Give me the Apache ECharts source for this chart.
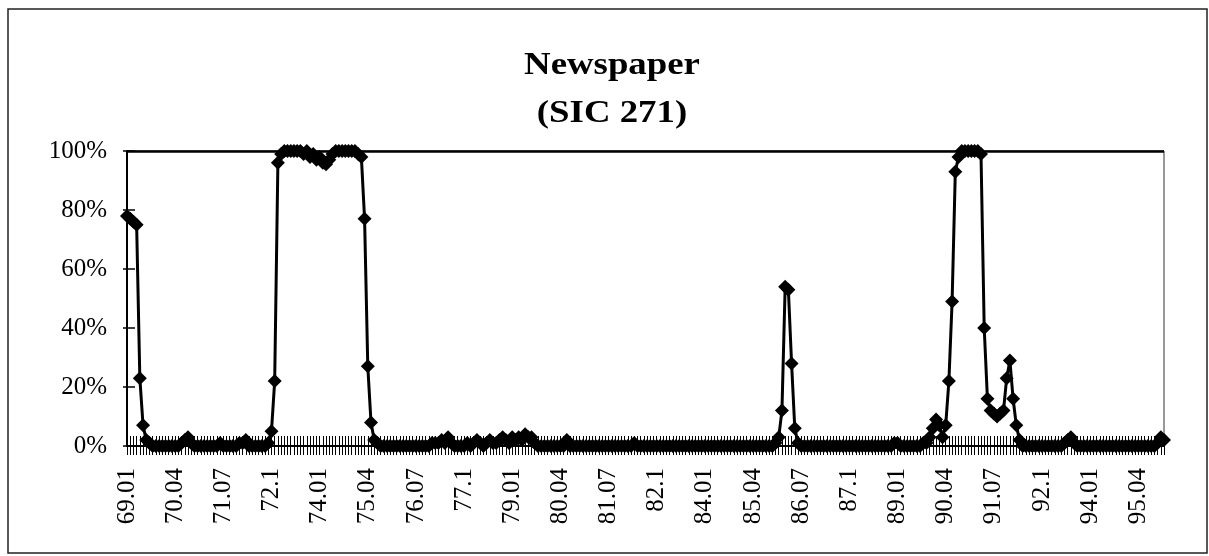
<!DOCTYPE html>
<html>
<head>
<meta charset="utf-8">
<script src="https://cdn.jsdelivr.net/npm/echarts@6/dist/echarts.min.js"></script>
<style>
  html, body { margin: 0; padding: 0; background: #fff; }
  #main { width: 1209px; height: 556px; }
</style>
</head>
<body>
<div id="main"></div>
<script>
var myChart = echarts.init(document.getElementById('main'));

// monthly categories, 69.01 .. 95.12, written the way Excel shows numbers (72.10 -> 72.1)
var firstYear = 69, lastYear = 95;
var months = [];
for (var y = firstYear; y <= lastYear; y++) {
    for (var m = 1; m <= 12; m++) {
        var mm = m < 10 ? '0' + m : (m == 10 ? '1' : String(m));
        months.push(y + '.' + mm);
    }
}

var titleLines = ['Newspaper', '(SIC 271)'];

// share per month, one row per year
var y69 = [0.78, 0.77, 0.76, 0.75, 0.23, 0.07, 0.02, 0.01, 0, 0, 0, 0];
var y70 = [0, 0, 0, 0, 0, 0.01, 0.02, 0.03, 0.01, 0, 0, 0];
var y71 = [0, 0, 0, 0, 0, 0.01, 0, 0, 0, 0, 0, 0.01];
var y72 = [0.01, 0.02, 0, 0, 0, 0, 0, 0, 0.01, 0.05, 0.22, 0.96];
var y73 = [0.99, 1, 1, 1, 1, 1, 1, 0.99, 1, 0.98, 0.99, 0.97];
var y74 = [0.98, 0.96, 0.955, 0.97, 0.99, 1, 1, 1, 1, 1, 1, 1];
var y75 = [0.99, 0.98, 0.77, 0.27, 0.08, 0.02, 0.01, 0, 0, 0, 0, 0];
var y76 = [0, 0, 0, 0, 0, 0, 0, 0, 0, 0, 0, 0.01];
var y77 = [0.01, 0.01, 0.02, 0.01, 0.03, 0.01, 0, 0, 0, 0, 0.01, 0];
var y78 = [0.01, 0.02, 0.01, 0, 0.01, 0.02, 0.01, 0.01, 0.02, 0.03, 0.02, 0.01];
var y79 = [0.03, 0.02, 0.03, 0.02, 0.04, 0.03, 0.03, 0.01, 0, 0, 0, 0];
var y80 = [0, 0, 0, 0, 0, 0.02, 0, 0, 0, 0, 0, 0];
var y81 = [0, 0, 0, 0, 0, 0, 0, 0, 0, 0, 0, 0];
var y82 = [0, 0, 0.01, 0, 0, 0, 0, 0, 0, 0, 0, 0];
var y83 = [0, 0, 0, 0, 0, 0, 0, 0, 0, 0, 0, 0];
var y84 = [0, 0, 0, 0, 0, 0, 0, 0, 0, 0, 0, 0];
var y85 = [0, 0, 0, 0, 0, 0, 0, 0, 0, 0, 0.01, 0.03];
var y86 = [0.12, 0.54, 0.53, 0.28, 0.06, 0.01, 0, 0, 0, 0, 0, 0];
var y87 = [0, 0, 0, 0, 0, 0, 0, 0, 0, 0, 0, 0];
var y88 = [0, 0, 0, 0, 0, 0, 0, 0, 0, 0, 0, 0.01];
var y89 = [0.01, 0, 0, 0, 0, 0, 0, 0, 0.01, 0.01, 0.03, 0.06];
var y90 = [0.09, 0.07, 0.03, 0.07, 0.22, 0.49, 0.93, 0.98, 1, 1, 1, 1];
var y91 = [1, 1, 0.99, 0.40, 0.16, 0.12, 0.11, 0.10, 0.11, 0.12, 0.23, 0.29];
var y92 = [0.16, 0.07, 0.02, 0, 0, 0, 0, 0, 0, 0, 0, 0];
var y93 = [0, 0, 0, 0, 0.01, 0.02, 0.03, 0.01, 0, 0, 0, 0];
var y94 = [0, 0, 0, 0, 0, 0, 0, 0, 0, 0, 0, 0];
var y95 = [0, 0, 0, 0, 0, 0, 0, 0, 0, 0.01, 0.03, 0.02];

var share = [].concat(y69, y70, y71, y72, y73, y74, y75, y76, y77, y78, y79, y80,
    y81, y82, y83, y84, y85, y86, y87, y88, y89, y90, y91, y92, y93, y94, y95);

var serif = "'Liberation Serif', 'Times New Roman', serif";

// the scanned title is a little wider than plain Times, so stretch it slightly
function titleText(str, y) {
    return {
        type: 'text',
        x: 612,
        y: y,
        scaleX: 1.15,
        silent: true,
        style: {
            text: str,
            textAlign: 'center',
            textVerticalAlign: 'middle',
            fontFamily: serif,
            fontWeight: 'bold',
            fontSize: 32,
            fill: '#000'
        }
    };
}

var option = {
    animation: false,
    grid: {
        left: 127,
        right: 45,
        top: 151,
        bottom: 110,
        show: true,
        borderColor: '#333',
        borderWidth: 1
    },
    xAxis: [{
        type: 'category',
        data: months,
        boundaryGap: false,
        axisLine: { lineStyle: { color: '#000', width: 2 } },
        axisTick: { interval: 0, length: 9, lineStyle: { color: '#000', width: 1 } },
        axisLabel: {
            interval: 14,
            rotate: 90,
            margin: 22,
            color: '#000',
            fontFamily: serif,
            fontSize: 25
        }
    }, {
        // inner half of the crossing tick marks
        type: 'category',
        data: months,
        boundaryGap: false,
        position: 'bottom',
        axisLine: { show: false },
        axisTick: { inside: true, interval: 0, length: 10, lineStyle: { color: '#000', width: 1 } },
        axisLabel: { show: false }
    }],
    yAxis: [{
        type: 'value',
        min: 0,
        max: 1,
        interval: 0.2,
        splitLine: { show: false },
        axisLine: { show: true, lineStyle: { color: '#000', width: 2 } },
        axisTick: { show: true, length: 4, lineStyle: { color: '#000', width: 1.5 } },
        axisLabel: {
            margin: 20,
            color: '#000',
            fontFamily: serif,
            fontSize: 25,
            formatter: function (v) { return Math.round(v * 100) + '%'; }
        }
    }, {
        type: 'value',
        position: 'left',
        min: 0,
        max: 1,
        interval: 0.2,
        splitLine: { show: false },
        axisLine: { show: false },
        axisTick: { show: true, inside: true, length: 8, lineStyle: { color: '#000', width: 1.5 } },
        axisLabel: { show: false }
    }],
    series: [{
        name: 'Newspaper',
        type: 'line',
        data: share,
        symbol: 'diamond',
        symbolSize: 14,
        showAllSymbol: true,
        itemStyle: { color: '#000' },
        lineStyle: { color: '#000', width: 3 },
        markLine: {
            silent: true,
            symbol: 'none',
            label: { show: false },
            lineStyle: { color: '#000', width: 2.5, type: 'solid' },
            data: [{ yAxis: 1 }]
        }
    }],
    graphic: [{
        type: 'rect',
        shape: { x: 8, y: 9, width: 1199, height: 544 },
        style: { fill: 'none', stroke: '#222', lineWidth: 1.5 },
        silent: true
    },
    titleText(titleLines[0], 66),
    titleText(titleLines[1], 114)]
};

myChart.setOption(option);
window.onresize = myChart.resize;
</script>
</body>
</html>
